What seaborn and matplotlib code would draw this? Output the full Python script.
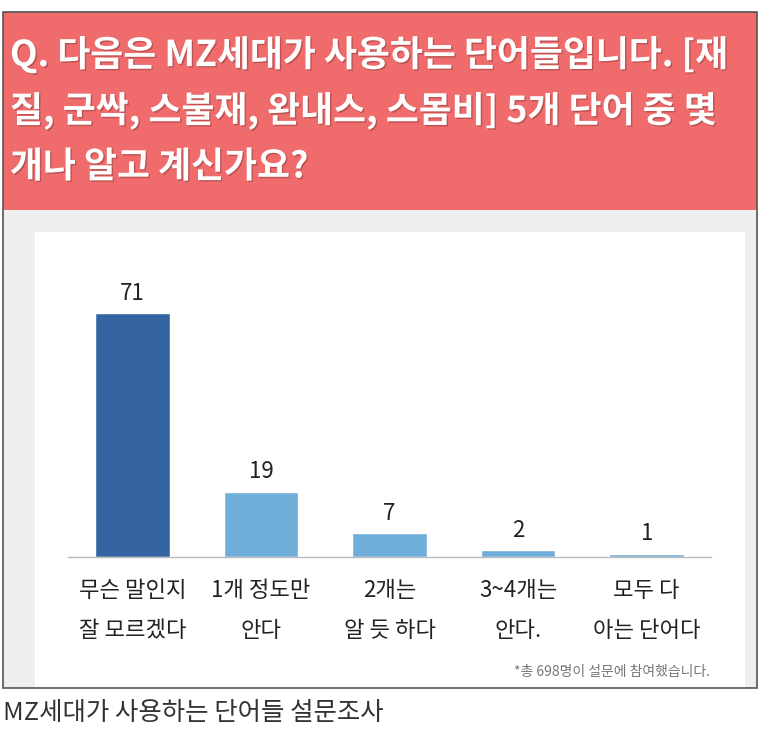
from matplotlib import pyplot as plt
from matplotlib.patches import Rectangle
import matplotlib.patheffects as pe
import seaborn as sns

# 데이터
title_lines = ["Q. 다음은 MZ세대가 사용하는 단어들입니다. [재",
               "질, 군싹, 스불재, 완내스, 스몸비] 5개 단어 중 몇",
               "개나 알고 계신가요?"]
categories = ["무슨 말인지\n잘 모르겠다", "1개 정도만\n안다", "2개는\n알 듯 하다",
              "3~4개는\n안다.", "모두 다\n아는 단어다"]
values = [71, 19, 7, 2, 1]
bar_colors = ["#3465A2", "#6FAED8", "#6FAED8", "#6FAED8", "#6FAED8"]
footnote = "*총 698명이 설문에 참여했습니다."
caption = "MZ세대가 사용하는 단어들 설문조사"

sns.set_theme(style="white")
plt.rcParams['font.family'] = ['Noto Sans CJK KR', 'DejaVu Sans']

W, H = 761, 744
fig = plt.figure(figsize=(W / 100, H / 100), dpi=100)
fig.patch.set_facecolor("white")


def px_rect(x0, y0, x1, y1, z, **kw):
    # 픽셀 좌표(위에서부터)를 figure 좌표로
    r = Rectangle((x0 / W, 1 - y1 / H), (x1 - x0) / W, (y1 - y0) / H,
                  transform=fig.transFigure, zorder=z, **kw)
    fig.patches.append(r)


px_rect(3, 12, 757, 688, -3, facecolor="#EEF0F0", edgecolor="none")
px_rect(3, 12, 757, 210, -2, facecolor="#F06B6C", edgecolor="none")
px_rect(35, 232, 745, 688, -2, facecolor="white", edgecolor="none")
px_rect(3, 12, 757, 688, 5, facecolor="none", edgecolor="#555555", linewidth=1.2)

shadow = [pe.withSimplePatchShadow(offset=(1, -1), shadow_rgbFace="#8a3a3a", alpha=0.5)]
for i, line in enumerate(title_lines):
    fig.text(10 / W, 1 - (55 + 56 * i) / H, line, color="white", fontsize=25.8,
             fontweight="bold", va="center", ha="left", path_effects=shadow)

# 막대 영역
ax = fig.add_axes([68 / W, 1 - 557 / H, 643 / W, 275 / H])
ax.set_zorder(2)
ax.set_facecolor("none")
sns.barplot(x=categories, y=values, hue=categories, palette=bar_colors,
            legend=False, width=0.58, saturation=1, ax=ax)
for c in ax.containers:
    ax.bar_label(c, padding=6, fontsize=16, color="#222222")
ax.set_xlim(-0.5, 4.5)
ax.set_ylim(0, 80)
ax.set_yticks([])
ax.set_ylabel("")
for s in ["top", "left", "right"]:
    ax.spines[s].set_visible(False)
ax.spines["bottom"].set_color("#BBBBBB")
ax.spines["bottom"].set_linewidth(1)
ax.tick_params(axis="x", length=0, pad=16, labelsize=16, labelcolor="#222222")
for t in ax.get_xticklabels():
    t.set_linespacing(1.95)

fig.text(710 / W, 1 - 672 / H, footnote, fontsize=10, color="#777777",
         ha="right", va="center")
fig.text(3 / W, 1 - 713 / H, caption, fontsize=18.3, color="#333333",
         ha="left", va="center", fontweight="light")

fig.savefig("out.png", dpi=100)
